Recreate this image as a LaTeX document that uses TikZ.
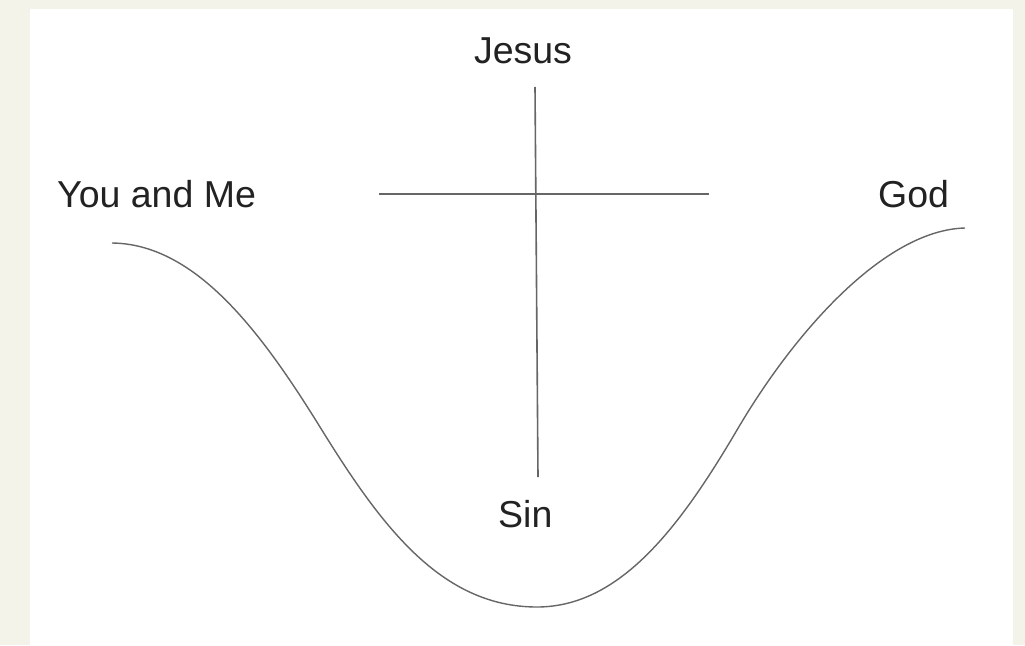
\documentclass[tikz,border=0pt]{standalone}
\usepackage{fontspec}
\setmainfont{Liberation Sans}
\definecolor{beige}{HTML}{F3F3EA}
\definecolor{linegray}{HTML}{666666}
\definecolor{textdark}{HTML}{222222}
\begin{document}
\begin{tikzpicture}[x=1pt,y=-1pt,
  lbl/.style={inner sep=0pt,text=textdark,font=\fontsize{37.5}{45}\selectfont},
  crossline/.style={draw=linegray,line width=1.6pt},
  valley/.style={draw=linegray,line width=1.4pt}]
\fill[beige] (0,0) rectangle (1025,645);
\fill[white] (30,9) rectangle (1013,645);
\useasboundingbox (0,0) rectangle (1025,645);
% labels
\node[lbl,anchor=base] (jesus) at (523,63) {Jesus};
\node[lbl,anchor=base west] (you) at (57,207) {You and Me};
\node[lbl,anchor=base west] (god) at (878,207) {God};
\node[lbl,anchor=base west] (sin) at (498,527) {Sin};
% cross
\coordinate (vtop) at (535,87);
\coordinate (vbot) at (538,477);
\coordinate (hl) at (379,194);
\coordinate (hr) at (709,194);
\draw[crossline] (vtop) -- (vbot);
\draw[crossline] (hl) -- (hr);
% valley curve
\coordinate (cl) at (112,243);
\coordinate (il) at (320,427);
\coordinate (bot) at (537,607);
\coordinate (ir) at (737,430);
\coordinate (cr) at (965,228);
\draw[valley] (cl) .. controls (195,244) and (260,330) .. (il)
  .. controls (380,524) and (440,607) .. (bot)
  .. controls (620,607) and (680,527) .. (ir)
  .. controls (795,331) and (885,230) .. (cr);
\end{tikzpicture}
\end{document}
